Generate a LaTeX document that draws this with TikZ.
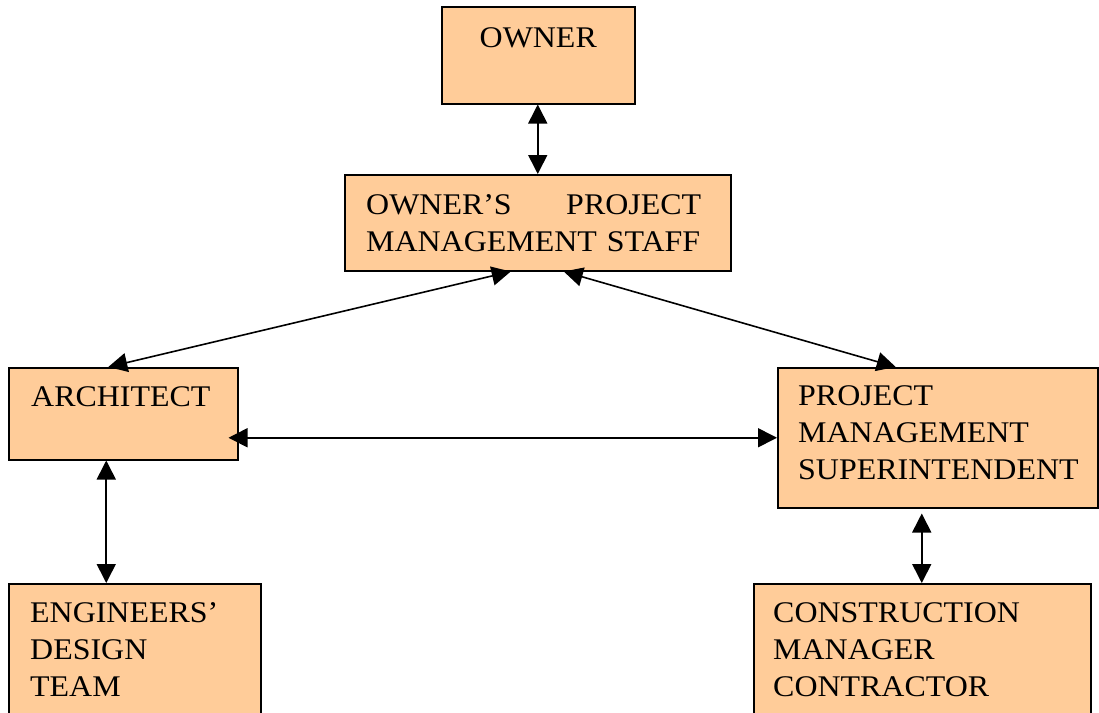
\documentclass[tikz,border=0pt]{standalone}
\usepackage{fontspec}
\setmainfont{Liberation Serif}[FakeStretch=1.065]
\usetikzlibrary{positioning,arrows.meta}
\definecolor{boxfill}{RGB}{255,204,153}

\begin{document}
\begin{tikzpicture}[x=1pt, y=-1pt,
  every node/.style={font=\fontsize{30}{37}\selectfont},
  roleBox/.style={draw, fill=boxfill, line width=1.5pt, anchor=north west, inner sep=0pt},
  roleText/.style={inner sep=0pt, align=left},
  link/.style={{Triangle[length=19pt,width=19pt]}-{Triangle[length=19pt,width=19pt]}, line width=1.6pt}]
\clip (0,0) rectangle (1099,712);
% top
\node[roleBox, minimum width=193pt, minimum height=97pt] (owner) at (441,6) {};
\node[roleBox, minimum width=386pt, minimum height=96pt] (opms) at (344,174) {};
% middle
\node[roleBox, minimum width=229pt, minimum height=92pt] (arch) at (8,367) {};
\node[roleBox, minimum width=320pt, minimum height=140pt] (pms) at (777,367) {};
% bottom
\node[roleBox, minimum width=252pt, minimum height=150pt] (edt) at (8,583) {};
\node[roleBox, minimum width=337pt, minimum height=150pt] (cmc) at (753,583) {};

% texts
\node[roleText, below=21pt of owner.north] (ownerT) {OWNER};
\node[roleText, text width=335pt, below right=20pt and 22pt of opms.north west] (opmsT) {OWNER’S\hfill PROJECT\\MANAGEMENT STAFF};
\node[roleText, below right=19pt and 23pt of arch.north west] (archT) {ARCHITECT};
\node[roleText, below right=18pt and 21pt of pms.north west] (pmsT) {PROJECT\\MANAGEMENT\\SUPERINTENDENT};
\node[roleText, below right=19pt and 22pt of edt.north west] (edtT) {ENGINEERS’\\DESIGN\\TEAM};
\node[roleText, below right=19pt and 20pt of cmc.north west] (cmcT) {CONSTRUCTION\\MANAGER\\CONTRACTOR};

% links
\draw[link] ([xshift=-0.5pt]owner.south) -- (opms.north);
\draw[link] ([xshift=-27pt]opms.south) -- ([xshift=-15pt]arch.north);
\draw[link] ([xshift=26pt]opms.south) -- ([xshift=-42pt]pms.north);
\draw[link, shorten <=-10pt] (arch.east |- pms.west) -- (pms.west);
\draw[link] ([xshift=-17pt]arch.south) -- ([xshift=-17pt]arch.south |- edt.north);
\draw[link, shorten <=5pt] ([xshift=-16pt]pms.south) -- ([xshift=-16pt]pms.south |- cmc.north);
\end{tikzpicture}
\end{document}
